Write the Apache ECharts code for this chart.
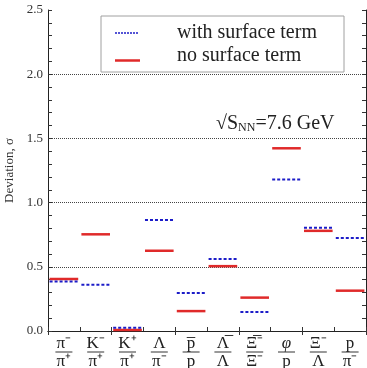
<!DOCTYPE html>
<html>
<head>
<meta charset="utf-8">
<script src="https://cdn.jsdelivr.net/npm/echarts@6/dist/echarts.min.js"></script>
<style>
  html, body { margin: 0; padding: 0; background: #fff; }
  #chart { width: 367px; height: 368px; }
</style>
</head>
<body>
<div id="chart"></div>
<script>
const FONT = "'Liberation Serif', 'Times New Roman', serif";

// ratio labels: numerator / denominator
const numerators = ["π⁻", "K⁻", "K⁺", "Λ", "p\u0305", "Λ\u0305", "Ξ\u0305⁻", "φ", "Ξ⁻", "p"];
const denominators = ["π⁺", "π⁺", "π⁺", "π⁻", "p", "Λ", "Ξ⁻", "p", "Λ", "π⁻"];
const categories = numerators.map((n, i) => n + "/" + denominators[i]);

const withSurface = [0.385, 0.36, 0.026, 0.864, 0.295, 0.56, 0.148, 1.18, 0.805, 0.725];
const noSurface = [0.405, 0.753, 0.008, 0.625, 0.155, 0.505, 0.26, 1.423, 0.78, 0.314];

const yTicks = [0, 0.5, 1.0, 1.5, 2.0, 2.5];

const chart = echarts.init(document.getElementById("chart"), null, { renderer: "canvas" });

function segment(color, dash, width) {
  return (params, api) => {
    const p = api.coord([api.value(0), api.value(1)]);
    const w = api.size([1, 0])[0] * 0.9;
    return {
      type: "line",
      shape: { x1: p[0] - w / 2, y1: p[1], x2: p[0] + w / 2, y2: p[1] },
      style: { stroke: color, lineWidth: width, lineDash: dash },
    };
  };
}

const frameAxis = { lineStyle: { color: "#222", width: 1 } };
const tickStyle = { color: "#333" };

chart.setOption({
  animation: false,
  grid: { left: 48, right: 1, top: 10, bottom: 37, outerBoundsMode: "none", containLabel: false },
  xAxis: [
    {
      type: "category",
      data: categories,
      position: "bottom",
      axisLine: frameAxis,
      axisTick: { show: true, inside: true, length: 4, lineStyle: tickStyle },
      axisLabel: {
        margin: 5,
        interval: 0,
        formatter: (v, i) => {
          const n = numerators[i] === "φ" ? "{ni|φ}" : "{n|" + numerators[i] + "}";
          return n + "\n{b| }\n{d|" + denominators[i] + "}";
        },
        rich: {
          n: { fontFamily: FONT, fontSize: 17, color: "#222", lineHeight: 15, align: "center" },
          ni: { fontFamily: FONT, fontSize: 17, fontStyle: "italic", color: "#222", lineHeight: 15, align: "center" },
          b: { width: 17, height: 1, backgroundColor: "#333", fontSize: 1, lineHeight: 2, align: "center" },
          d: { fontFamily: FONT, fontSize: 17, color: "#222", lineHeight: 17, align: "center" },
        },
      },
      splitLine: { show: false },
    },
    {
      type: "category",
      data: categories,
      position: "top",
      axisLine: frameAxis,
      axisTick: { show: true, inside: true, length: 4, lineStyle: tickStyle },
      axisLabel: { show: false },
    },
  ],
  yAxis: [
    {
      type: "value",
      min: 0,
      max: 2.5,
      interval: 0.5,
      position: "left",
      name: "Deviation, σ",
      nameLocation: "middle",
      nameGap: 32,
      nameTextStyle: { fontFamily: FONT, fontSize: 13, color: "#333" },
      axisLine: { show: true, ...frameAxis },
      axisTick: { show: true, inside: true, length: 4, lineStyle: tickStyle },
      minorTick: { show: true, splitNumber: 5, length: 4, lineStyle: tickStyle },
      axisLabel: {
        fontFamily: FONT, fontSize: 13, color: "#333", margin: 5,
        formatter: (v) => yTicks.includes(v) ? v.toFixed(1) : "",
      },
      splitLine: {
        show: true,
        showMinLine: false,
        showMaxLine: false,
        lineStyle: { color: "#444", type: [1, 1], width: 1 },
      },
    },
    {
      type: "value",
      min: 0,
      max: 2.5,
      interval: 0.5,
      position: "right",
      axisLine: { show: true, ...frameAxis },
      axisTick: { show: true, inside: true, length: 4, lineStyle: tickStyle },
      minorTick: { show: true, splitNumber: 5, length: 4, lineStyle: tickStyle },
      axisLabel: { show: false },
      splitLine: { show: false },
    },
  ],
  series: [
    {
      name: "no surface term",
      type: "custom",
      renderItem: segment("#e02a2a", null, 2.5),
      data: noSurface.map((v, i) => [i, v]),
      z: 3,
    },
    {
      name: "with surface term",
      type: "custom",
      renderItem: segment("#1c1cc8", [3, 2], 2),
      data: withSurface.map((v, i) => [i, v]),
      z: 4,
    },
  ],
  graphic: [
    {
      type: "rect",
      shape: { x: 101, y: 16, width: 243, height: 56 },
      style: { fill: "#fff", stroke: "#a0a0a0", lineWidth: 1 },
      z: 10,
    },
    {
      type: "line",
      shape: { x1: 115, y1: 33, x2: 139, y2: 33 },
      style: { stroke: "#1c1cc8", lineWidth: 1.5, lineDash: [2, 1] },
      z: 11,
    },
    {
      type: "line",
      shape: { x1: 115, y1: 60.5, x2: 140, y2: 60.5 },
      style: { stroke: "#e02a2a", lineWidth: 2.5 },
      z: 11,
    },
    {
      type: "text",
      left: 177,
      top: 23,
      style: { text: "with surface term", font: "20px " + FONT, fill: "#222" },
      z: 11,
    },
    {
      type: "text",
      left: 177,
      top: 46,
      style: { text: "no surface term", font: "20px " + FONT, fill: "#222" },
      z: 11,
    },
    {
      type: "text",
      left: 216,
      top: 114,
      style: {
        text: "{a|√S}{s|NN}{a|=7.6 GeV}",
        rich: {
          a: { fontFamily: FONT, fontSize: 20, fill: "#222", verticalAlign: "bottom" },
          s: { fontFamily: FONT, fontSize: 12, fill: "#222", verticalAlign: "bottom" },
        },
      },
      z: 11,
    },
  ],
});
</script>
</body>
</html>
